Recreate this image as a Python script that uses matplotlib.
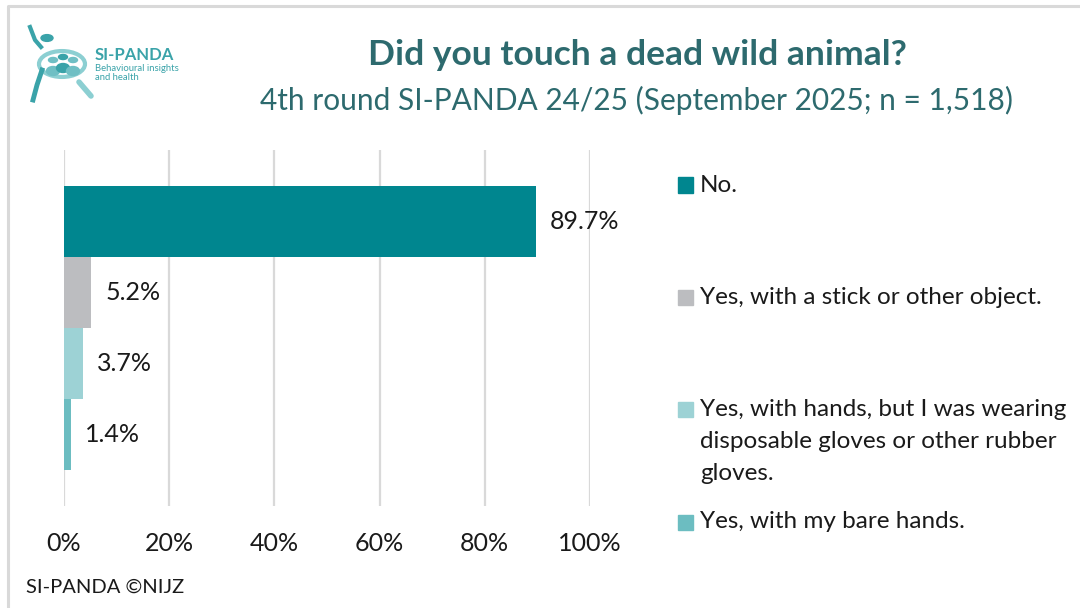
import matplotlib
matplotlib.use("Agg")
import matplotlib.pyplot as plt
from matplotlib.patches import Rectangle, Circle, Ellipse
from matplotlib.lines import Line2D

plt.rcParams['font.family'] = ['Lato', 'DejaVu Sans']

# data
answers = ["No.",
           "Yes, with a stick or other object.",
           "Yes, with hands, but I was wearing\ndisposable gloves or other rubber\ngloves.",
           "Yes, with my bare hands."]
shares = [89.7, 5.2, 3.7, 1.4]
colors = ["#00868F", "#BCBDC0", "#9DD2D5", "#6CBDC1"]
xticks = [0, 20, 40, 60, 80, 100]

title = "Did you touch a dead wild animal?"
subtitle = "4th round SI-PANDA 24/25 (September 2025; n = 1,518)"
footer = "SI-PANDA \u00a9NIJZ"

W, H = 1080, 608
fig = plt.figure(figsize=(W / 100, H / 100), dpi=100)
tf = fig.transFigure


def px(x, y):
    return x / W, 1 - y / H


# outer frame: only the left and top edges show in the crop
fig.lines.append(Line2D([8 / W, 8 / W, 1.0], [0.0, 1 - 6 / H, 1 - 6 / H], transform=tf,
                        color="#D9D9D9", linewidth=2.2))

# titles
fig.text(*px(637, 55), title, ha="center", va="center", fontsize=25.5,
         fontweight="bold", color="#2D6A6E")
fig.text(*px(637, 100), subtitle, ha="center", va="center", fontsize=21.5,
         color="#2D6A6E")

# logo (simplified)
teal = "#3AA3A9"
pale = "#8CCFD2"
fig.patches.append(Circle(px(62, 64), 23 / W, transform=tf, fill=False,
                          edgecolor=pale, linewidth=3))
fig.lines.append(Line2D([79 / W, 91 / W], [1 - 82 / H, 1 - 96 / H], transform=tf,
                        color=pale, linewidth=4, solid_capstyle="round"))
for cx, cy in ((53, 60), (63, 57), (73, 60)):
    c = teal if cx == 63 else "#6FBFC4"
    fig.patches.append(Circle(px(cx, cy), 4.5 / W, transform=tf, color=c))
    fig.patches.append(Ellipse(px(cx, cy + 11), 13 / W, 9 / H, transform=tf, color=c))
fig.patches.append(Circle(px(47, 38), 6 / W, transform=tf, color=teal))
fig.lines.append(Line2D([30 / W, 35 / W, 41 / W], [1 - 27 / H, 1 - 40 / H, 1 - 47 / H],
                        transform=tf, color=teal, linewidth=3))
fig.lines.append(Line2D([42 / W, 37 / W, 33 / W], [1 - 70 / H, 1 - 85 / H, 1 - 100 / H],
                        transform=tf, color=teal, linewidth=3.5))
fig.text(*px(95, 55), "SI-PANDA", ha="left", va="center", fontsize=12,
         fontweight="bold", color=teal)
fig.text(*px(95, 73), "Behavioural insights\nand health", ha="left", va="center",
         fontsize=6.8, color=teal, linespacing=1.0)

# chart
ax = fig.add_axes([64 / W, (H - 506) / H, (590 - 64) / W, (506 - 150) / H])
pos = list(range(len(shares)))
ax.barh(pos, shares, height=1.0, color=colors, zorder=2)
for p, v in zip(pos, shares):
    ax.annotate(f"{v:.1f}%", (v, p), xytext=(14, 0), textcoords="offset pixels",
                ha="left", va="center", fontsize=18, color="#1A1A1A")
ax.set_xlim(0, 100)
ax.set_ylim(4.0, -1.0)
ax.set_xticks(xticks)
ax.set_xticklabels([f"{t}%" for t in xticks], fontsize=18, color="#1A1A1A")
ax.set_yticks([])
ax.tick_params(axis="x", length=0, pad=19)
ax.grid(axis="x", color="#D9D9D9", linewidth=1.6, zorder=0)
for s in ax.spines.values():
    s.set_visible(False)

# legend
legend_y = [185, 297, 409, 522]
for lab, c, y in zip(answers, colors, legend_y):
    fig.patches.append(Rectangle(px(678, y + 7.5), 15 / W, 15 / H, transform=tf, color=c))
    lines = lab.split("\n")
    for k, line in enumerate(lines):
        fig.text(*px(700, y + k * 32.5), line, ha="left", va="center",
                 fontsize=17.5, color="#1A1A1A")

fig.text(*px(26, 587), footer, ha="left", va="center", fontsize=14.5, color="#1A1A1A")

fig.savefig("out.png", dpi=100)
